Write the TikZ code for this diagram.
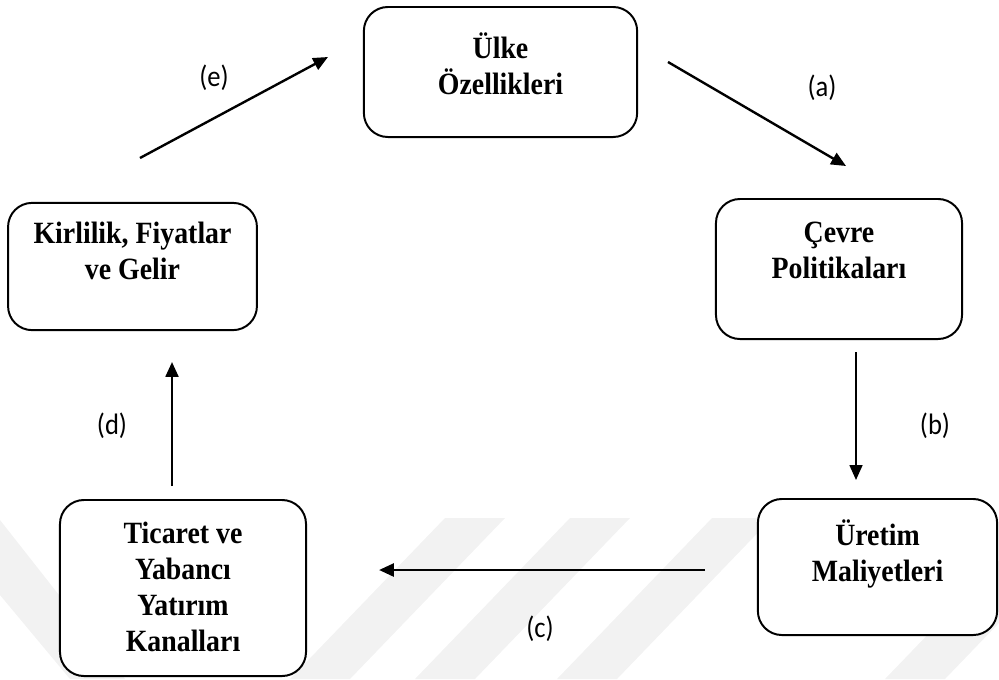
\documentclass[tikz,border=0pt]{standalone}
\usepackage{fontspec}
\setmainfont{Liberation Serif}[FakeStretch=0.9]
\newfontfamily\labelfont{Carlito}[FakeStretch=0.9]
\usetikzlibrary{arrows.meta,positioning}
\definecolor{markgray}{HTML}{F2F2F2}

\begin{document}
\begin{tikzpicture}[
  x=0.025cm,y=-0.025cm,
  >={Triangle[length=3.7mm,width=3.2mm]},
  stagebox/.style={draw,line width=1.4pt,rounded corners=0.6cm,fill=white,align=center,
    font={\fontsize{22pt}{25.6pt}\selectfont\bfseries},inner sep=0pt},
  flow/.style={->,line width=1.7pt},
  steplabel/.style={font={\labelfont\fontsize{21pt}{24pt}\selectfont}}
]
  \useasboundingbox (0,0) rectangle (999,679);
  % faint watermark bands
  \fill[markgray] (445,518) -- (505,518) -- (350,679) -- (290,679) -- cycle;
  \fill[markgray] (570,518) -- (630,518) -- (475,679) -- (415,679) -- cycle;
  \fill[markgray] (712,518) -- (772,518) -- (617,679) -- (557,679) -- cycle;
  \fill[markgray] (1040,518) -- (1100,518) -- (945,679) -- (885,679) -- cycle;
  \fill[markgray] (0,520) -- (0,595) -- (70,679) -- (125,679) -- cycle;
  % stages
  \node[stagebox,minimum width=6.83cm,minimum height=3.25cm,text depth=0.4cm] (ulke) at (500.5,72) {Ülke\\Özellikleri};
  \node[stagebox,minimum width=6.15cm,minimum height=3.5cm,text depth=0.95cm] (cevre) at (839,269) {Çevre\\Politikaları};
  \node[stagebox,minimum width=5.98cm,minimum height=3.4cm,text depth=0.8cm] (uretim) at (877.5,567) {Üretim\\Maliyetleri};
  \node[stagebox,minimum width=6.15cm,minimum height=4.4cm,text depth=0.05cm] (ticaret) at (183,588) {Ticaret ve\\Yabancı\\Yatırım\\Kanalları};
  \node[stagebox,minimum width=6.22cm,minimum height=3.18cm,text depth=0.8cm] (kirlilik) at (132.5,266.5) {Kirlilik, Fiyatlar\\ve Gelir};
  % arrow ends
  \coordinate (a-from) at (668,62);   \coordinate (a-to) at (846,166);
  \coordinate (b-from) at (856,352);  \coordinate (b-to) at (856,480);
  \coordinate (c-from) at (705,570);  \coordinate (c-to) at (379,570);
  \coordinate (d-from) at (172,486);  \coordinate (d-to) at (172,362);
  \coordinate (e-from) at (140,158);  \coordinate (e-to) at (328,57);
  \draw[flow] (a-from) -- (a-to);
  \draw[flow,line width=1.2pt] (b-from) -- (b-to);
  \draw[flow,line width=2pt] (c-from) -- (c-to);
  \draw[flow] (d-from) -- (d-to);
  \draw[flow] (e-from) -- (e-to);
  \node[steplabel] (lab-a) at (822,88) {(a)};
  \node[steplabel] (lab-b) at (935,426) {(b)};
  \node[steplabel] (lab-c) at (540,629) {(c)};
  \node[steplabel] (lab-d) at (112,426) {(d)};
  \node[steplabel] (lab-e) at (214,78) {(e)};
\end{tikzpicture}
\end{document}
